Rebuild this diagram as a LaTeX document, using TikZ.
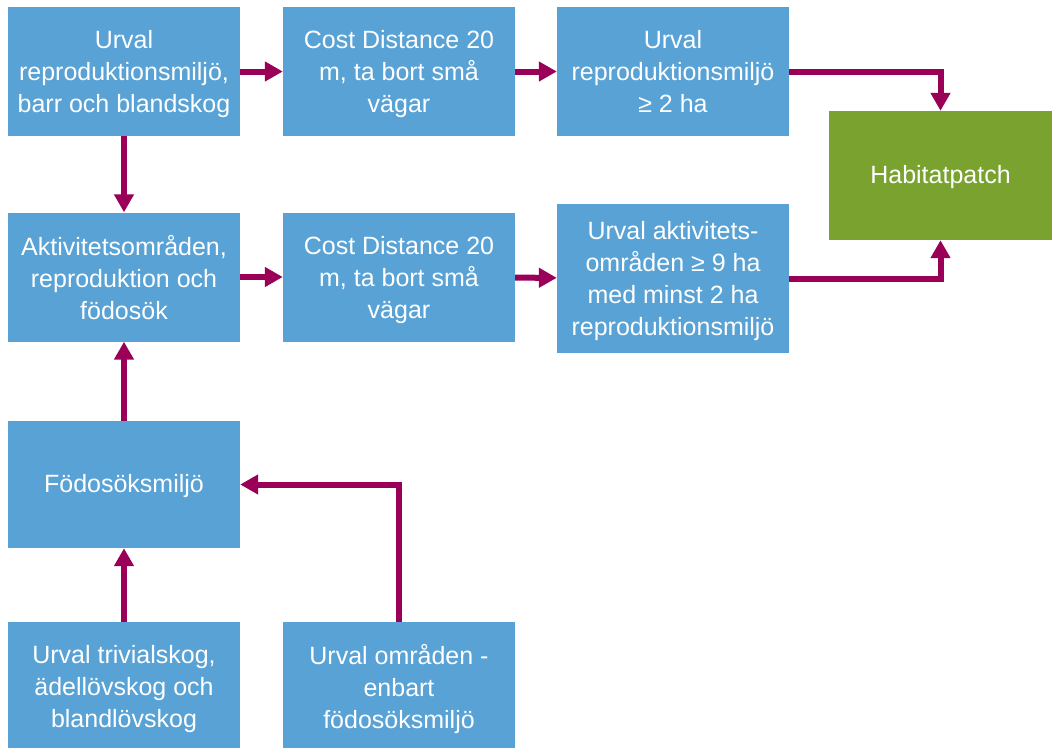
\documentclass[tikz,border=0pt]{standalone}
\usepackage{fontspec}
\setmainfont{Liberation Sans}
\usetikzlibrary{arrows.meta}
\definecolor{boxblue}{HTML}{58A2D6}
\definecolor{boxgreen}{HTML}{79A22F}
\definecolor{flow}{HTML}{9B0058}
\begin{document}
\begin{tikzpicture}[x=1pt,y=-1pt,
  stepbox/.style={fill=boxblue, text=white, minimum width=232pt, minimum height=129pt,
    inner sep=0pt, align=center, text depth=-1pt, font=\fontsize{25}{32}\selectfont},
  oneline/.style={text depth=8pt, execute at begin node={\rule{0pt}{24pt}}},
  goalbox/.style={stepbox, oneline, fill=boxgreen, minimum width=223pt},
  flowarrow/.style={draw=flow, line width=6pt, -{Triangle[width=19pt,length=18pt]}}]
\useasboundingbox (0,0) rectangle (1052,747);
\clip (0,0) rectangle (1052,747);
\fill[white] (0,0) rectangle (1052,747);
% top row
\node[stepbox] (a) at (124,71.5) {Urval\\reproduktionsmiljö,\\barr och blandskog};
\node[stepbox] (b) at (399,71.5) {Cost Distance 20\\m, ta bort små\\vägar};
\node[stepbox] (c) at (673,71.5) {Urval\\reproduktionsmiljö\\≥ 2 ha};
\node[goalbox] (hab) at (940.5,175.5) {Habitatpatch};
% second row
\node[stepbox] (d) at (124,277) {Aktivitetsområden,\\reproduktion och\\födosök};
\node[stepbox] (e) at (399,277) {Cost Distance 20\\m, ta bort små\\vägar};
\node[stepbox, minimum height=149pt] (f) at (673,278.5) {Urval aktivitets-\\områden ≥ 9 ha\\med minst 2 ha\\reproduktionsmiljö};
% foraging habitat
\node[stepbox, oneline, minimum height=127pt] (g) at (124,484.5) {Födosöksmiljö};
% bottom row
\node[stepbox] (h) at (124,686.5) {Urval trivialskog,\\ädellövskog och\\blandlövskog};
\node[stepbox] (i) at (399,686.5) {Urval områden -\\enbart\\födosöksmiljö};
% connectors
\draw[flowarrow] (a) -- (b);
\draw[flowarrow] (b) -- (c);
\draw[flowarrow] (a) -- (d);
\draw[flowarrow] (c.east) -| (hab.north);
\draw[flowarrow] (d) -- (e);
\draw[flowarrow] (e) -- (f);
\draw[flowarrow] (f.east) -| (hab.south);
\draw[flowarrow] (g) -- (d);
\draw[flowarrow] (h) -- (g);
\draw[flowarrow] (i.north) |- (g.east);
\end{tikzpicture}
\end{document}
